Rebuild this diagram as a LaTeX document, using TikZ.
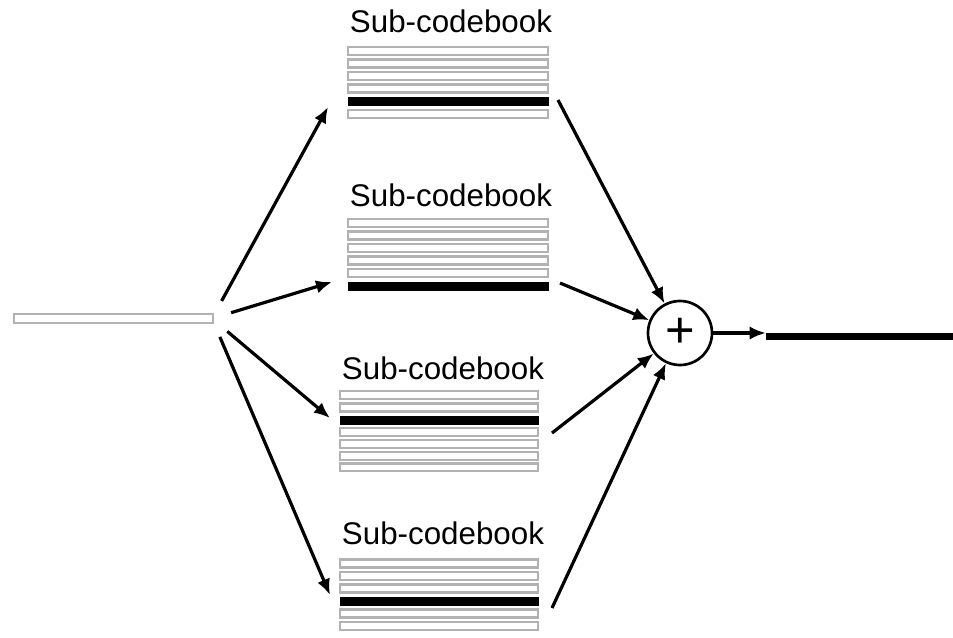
\documentclass[tikz,border=0pt]{standalone}
\usepackage{fontspec}
\setmainfont{Liberation Sans}
\usetikzlibrary{arrows.meta}

\begin{document}
\begin{tikzpicture}[x=0.75pt,y=0.75pt,yscale=-1,xscale=1,
  word/.style={font=\fontsize{23.5}{28}\selectfont, anchor=base, inner sep=0},
  bar/.style={draw={rgb, 255:red, 178; green, 178; blue, 178 }, line width=2.1pt, fill=white},
  sel/.style={draw=black, line width=0.75pt, fill=black},
  arr/.style={line width=2.4pt, -{Latex[length=12pt,width=10pt]}}]
%set diagram left start at 0, and has height of 637
\useasboundingbox (0,0) rectangle (953,637);

%Shape: Rectangle (input vector)
\draw [bar] (14,314) rectangle (213,323) ;
\node [circle, inner sep=0, outer sep=0, minimum size=30pt] (fan) at (212,318.5) {};

%Shape: Rectangle (first sub-codebook)
\draw [bar] (348,47) rectangle (548,55) ;
\draw [bar] (348,59.5) rectangle (548,67.5) ;
\draw [bar] (348,72) rectangle (548,80) ;
\draw [bar] (348,84.5) rectangle (548,92.5) ;
\draw [sel] (348,97) rectangle (548,105) ;
\draw [bar] (348,110) rectangle (548,118) ;

%Shape: Rectangle (second sub-codebook)
\draw [bar] (348,219) rectangle (548,227) ;
\draw [bar] (348,231.5) rectangle (548,239.5) ;
\draw [bar] (348,244) rectangle (548,252) ;
\draw [bar] (348,256.5) rectangle (548,264.5) ;
\draw [bar] (348,269) rectangle (548,277) ;
\draw [sel] (348,282) rectangle (548,290) ;

%Shape: Rectangle (third sub-codebook)
\draw [bar] (340,391) rectangle (538,399) ;
\draw [bar] (340,403.5) rectangle (538,411.5) ;
\draw [sel] (340,416) rectangle (538,424) ;
\draw [bar] (340,428) rectangle (538,436) ;
\draw [bar] (340,440) rectangle (538,448) ;
\draw [bar] (340,452) rectangle (538,460) ;
\draw [bar] (340,463.5) rectangle (538,471) ;

%Shape: Rectangle (fourth sub-codebook)
\draw [bar] (340,559.5) rectangle (538,567.5) ;
\draw [bar] (340,572) rectangle (538,580) ;
\draw [bar] (340,584.5) rectangle (538,592.5) ;
\draw [sel] (340,597) rectangle (538,605) ;
\draw [bar] (340,609.5) rectangle (538,617.5) ;
\draw [bar] (340,622) rectangle (538,630) ;

% Text Node
\draw (451,32) node [word] (title1) {Sub-codebook};
% Text Node
\draw (451,206) node [word] (title2) {Sub-codebook};
% Text Node
\draw (443,379) node [word] (title3) {Sub-codebook};
% Text Node
\draw (443,544) node [word] (title4) {Sub-codebook};

%Shape: Circle (adder)
\draw (680,333) node [circle, draw, line width=2pt, minimum size=48pt, inner sep=0, font=\fontsize{38}{38}\selectfont] (sum) {+};

%Shape: Rectangle (output vector)
\draw (859.5,336) node [fill=black, inner sep=0, minimum width=140.25pt, minimum height=5.25pt] (outbar) {};

% arrow ends
\coordinate (cb1in) at (328,107);
\coordinate (cb2in) at (332,282);
\coordinate (cb3in) at (330,418);
\coordinate (cb4in) at (330,595);
\coordinate (cb1out) at (558,100);
\coordinate (cb2out) at (560,283);
\coordinate (cb3out) at (552,433);
\coordinate (cb4out) at (552,608);

%Straight Lines
\draw [arr] (fan) -- (cb1in) ;
\draw [arr] (fan) -- (cb2in) ;
\draw [arr] (fan) -- (cb3in) ;
\draw [arr] (fan) -- (cb4in) ;

%Straight Lines
\draw [arr] (cb1out) -- (sum) ;
\draw [arr] (cb2out) -- (sum) ;
\draw [arr] (cb3out) -- (sum) ;
\draw [arr] (cb4out) -- (sum) ;

%Straight Lines
\draw [arr] (sum) -- (sum -| outbar.west) ;

\end{tikzpicture}
\end{document}
